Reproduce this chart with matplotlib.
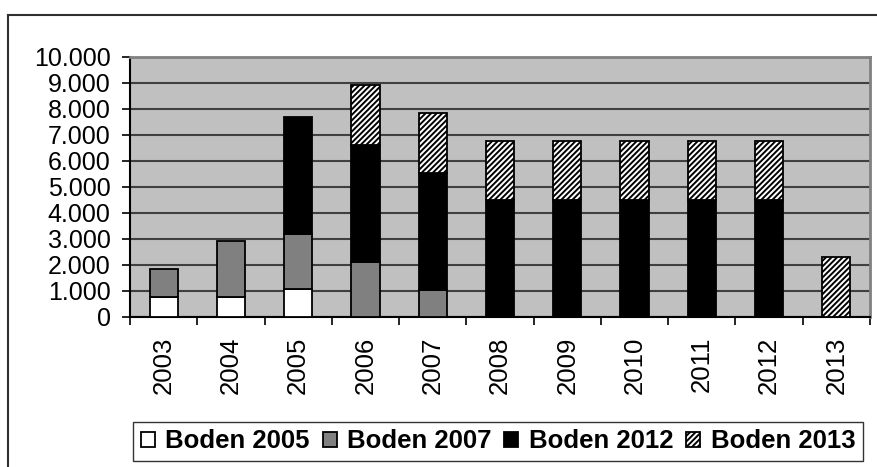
import matplotlib
matplotlib.use("Agg")
import matplotlib.pyplot as plt
import numpy as np
from matplotlib.lines import Line2D
from matplotlib.ticker import FixedLocator, FuncFormatter

plt.rcParams['font.family'] = ['Liberation Sans', 'DejaVu Sans']
plt.rcParams['hatch.linewidth'] = 1.4

years = ["2003", "2004", "2005", "2006", "2007", "2008", "2009", "2010", "2011", "2012", "2013"]
series_names = ["Boden 2005", "Boden 2007", "Boden 2012", "Boden 2013"]
boden_2005 = [770, 770, 1080, 0, 0, 0, 0, 0, 0, 0, 0]
boden_2007 = [1080, 2150, 2110, 2100, 1050, 0, 0, 0, 0, 0, 0]
boden_2012 = [0, 0, 4500, 4530, 4500, 4490, 4490, 4490, 4490, 4490, 0]
boden_2013 = [0, 0, 0, 2290, 2280, 2280, 2280, 2280, 2280, 2280, 2310]

fig = plt.figure(figsize=(8.77, 4.67), dpi=100)
ax = fig.add_axes([130/877, 1 - 317/467, (870 - 130)/877, (317 - 57)/467])
ax.set_facecolor('#C0C0C0')

x = np.arange(len(years))
w = 0.42
bottom = np.zeros(len(years))
styles = [
    dict(color='white', hatch=None),
    dict(color='#808080', hatch=None),
    dict(color='black', hatch=None),
    dict(color='white', hatch='//////'),
]
for vals, name, st in zip([boden_2005, boden_2007, boden_2012, boden_2013], series_names, styles):
    v = np.array(vals, dtype=float)
    mask = v > 0
    ax.bar(x[mask], v[mask], w, bottom=bottom[mask], color=st['color'],
           edgecolor='black', linewidth=1.3, hatch=st['hatch'], label=name, zorder=3)
    bottom += v

ax.set_xlim(-0.5, len(years) - 0.5)
ax.set_ylim(0, 10000)
ax.yaxis.set_major_locator(FixedLocator(np.arange(0, 10001, 1000)))
ax.yaxis.set_major_formatter(FuncFormatter(lambda v, p: f"{int(v):,}".replace(",", ".")))
ax.grid(axis='y', color='#404040', linewidth=1.5, zorder=1)
ax.set_axisbelow(True)

ax.set_xticks(x)
ax.set_xticklabels(years, rotation=90)
ax.set_xticks(np.arange(-0.5, len(years), 1), minor=True)
ax.tick_params(axis='x', which='major', length=0, pad=14, labelsize=18.5)
ax.tick_params(axis='x', which='minor', length=5.5, width=1.2, direction='out')
ax.tick_params(axis='y', length=6, width=1.2, pad=8, labelsize=18)

for s in ['top', 'right']:
    ax.spines[s].set_color('#808080')
    ax.spines[s].set_linewidth(2)
for s in ['left', 'bottom']:
    ax.spines[s].set_color('black')
    ax.spines[s].set_linewidth(1.5)

leg = fig.legend(loc='center', bbox_to_anchor=(498/877, 1 - 441.5/467),
                 bbox_transform=fig.transFigure, ncol=4, frameon=True, fancybox=False,
                 prop=dict(weight='bold', size=18.5), handlelength=0.55, handleheight=0.55,
                 handletextpad=0.4, columnspacing=0.5, borderpad=0.3, borderaxespad=0)
leg.get_frame().set_edgecolor('black')
leg.get_frame().set_linewidth(1.0)

fig.add_artist(Line2D([8/877, 8/877], [0, 1 - 15/467], transform=fig.transFigure, color='#303030', lw=1.5))
fig.add_artist(Line2D([8/877, 1], [1 - 15/467, 1 - 15/467], transform=fig.transFigure, color='#303030', lw=1.5))

fig.savefig('out.png', dpi=100)
